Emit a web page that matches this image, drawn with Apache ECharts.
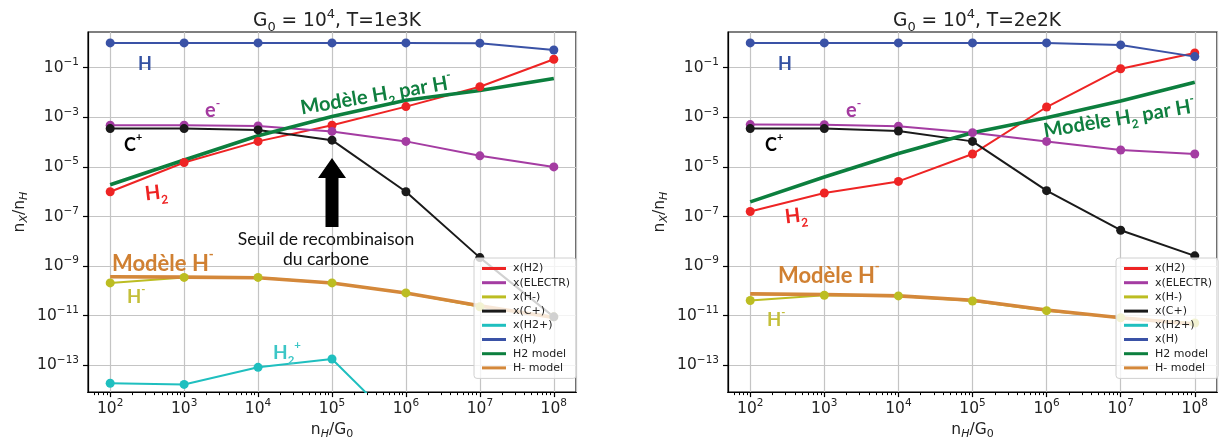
<!DOCTYPE html>
<html><head><meta charset="utf-8">
<script src="https://cdn.jsdelivr.net/npm/echarts@6/dist/echarts.min.js"></script>
<style>html,body{margin:0;padding:0;background:#fff}#c{width:1219px;height:445px}</style>
</head><body><div id="c"></div>
<script>
// ---------- data ----------
const xValues = [1e2, 1e3, 1e4, 1e5, 1e6, 1e7, 1e8];
const xTickValues = [1e2, 1e3, 1e4, 1e5, 1e6, 1e7, 1e8];
const yTickValues = [1e-13, 1e-11, 1e-9, 1e-7, 1e-5, 1e-3, 1e-1];
const seriesNames = ['x(H2)', 'x(ELECTR)', 'x(H-)', 'x(C+)', 'x(H2+)', 'x(H)', 'H2 model', 'H- model'];
const titles = ['G{s|0}{b| = 10}{p|4}{b|, T=1e3K}', 'G{s|0}{b| = 10}{p|4}{b|, T=2e2K}'];

// Left panel: T = 1e3 K
const leftH2      = [1.0e-6, 1.5e-5, 1.07e-4, 4.8e-4, 2.7e-3, 1.7e-2, 0.22];
const leftElectr  = [4.8e-4, 4.8e-4, 4.5e-4, 2.7e-4, 1.07e-4, 2.8e-5, 1.0e-5];
const leftHm      = [2.1e-10, 3.5e-10, 3.5e-10, 2.1e-10, 8.3e-11, 2.3e-11, 9e-12];
const leftCp      = [3.5e-4, 3.5e-4, 3.1e-4, 1.2e-4, 1.0e-6, 2.2e-9, 9e-12];
const leftH2p     = [1.9e-14, 1.7e-14, 8.3e-14, 1.8e-13, 2e-16, 1e-18, 1e-20];
const leftH       = [1.0, 1.0, 1.0, 1.0, 1.0, 0.98, 0.52];
const leftH2Model = [1.9e-6, 1.9e-5, 1.8e-4, 1.07e-3, 4.9e-3, 1.2e-2, 3.7e-2];
const leftHmModel = [3.7e-10, 3.6e-10, 3.4e-10, 2.1e-10, 8.3e-11, 2.5e-11, 8.5e-12];

// Right panel: T = 2e2 K
const rightH2      = [1.6e-7, 8.9e-7, 2.6e-6, 3.3e-5, 2.6e-3, 9.1e-2, 0.39];
const rightElectr  = [5.1e-4, 5.0e-4, 4.4e-4, 2.4e-4, 1.07e-4, 4.8e-5, 3.3e-5];
const rightHm      = [4.1e-11, 6.7e-11, 6.3e-11, 3.9e-11, 1.6e-11, 8.3e-12, 5.1e-12];
const rightCp      = [3.5e-4, 3.5e-4, 2.8e-4, 1.07e-4, 1.1e-6, 2.8e-8, 2.6e-9];
const rightH2p     = [3e-16, 3e-16, 5e-16, 8e-16, 1e-17, 1e-19, 1e-21];
const rightH       = [1.0, 1.0, 1.0, 1.0, 1.0, 0.83, 0.28];
const rightH2Model = [3.9e-7, 3.9e-6, 3.5e-5, 2.4e-4, 9.7e-4, 4.5e-3, 2.6e-2];
const rightHmModel = [7.6e-11, 7.2e-11, 6.3e-11, 4.2e-11, 1.7e-11, 8.3e-12, 4.5e-12];

// ---------- style ----------
const COL = {
  'x(H2)': '#ee2424', 'x(ELECTR)': '#a43ca2', 'x(H-)': '#bcbd22', 'x(C+)': '#1a1a1a',
  'x(H2+)': '#1fbfbf', 'x(H)': '#3a52a6', 'H2 model': '#0c7f3e', 'H- model': '#d4883a'
};
const XLOG_MIN = 1.7, XLOG_MAX = 8.3;
const XMIN = Math.pow(10, XLOG_MIN), XMAX = Math.pow(10, XLOG_MAX);
const YMIN = Math.pow(10, -14.08), YMAX = Math.pow(10, 0.44);
// minor tick positions (2..9 x 10^k), expressed as decades for a helper tick-only axis
const xMinorTickDecades = [];
for (let k = 1; k <= 8; k++) for (let m = 2; m <= 9; m++) {
  const d = Math.log10(m * Math.pow(10, k));
  if (d > XLOG_MIN && d < XLOG_MAX) xMinorTickDecades.push(d);
}
const MPL = 'DejaVu Sans';
const ANN = 'Lato, "Open Sans", sans-serif';

function expLabel(v) {
  const e = Math.round(Math.log10(v));
  return '{b|10}{p|' + (e < 0 ? '\u2212' + (-e) : e) + '}';
}
const tickRich = {
  b: { fontSize: 15.5, lineHeight: 22, fontFamily: MPL, color: '#222' },
  p: { fontSize: 10.5, lineHeight: 11, verticalAlign: 'top', fontFamily: MPL, color: '#222' }
};

const grids = [
  { left: 88, top: 32, width: 488, height: 363 },
  { left: 728, top: 32, width: 489, height: 363 }
];

function mainX(gi) {
  return {
    type: 'log', gridIndex: gi, min: XMIN, max: XMAX, position: 'bottom',
    name: '{b|n}{s|H}{b|/G}{z|0}', nameLocation: 'middle', nameGap: 27,
    nameTextStyle: { rich: {
      b: { fontSize: 15.5, lineHeight: 20, fontFamily: MPL, color: '#222' },
      s: { fontSize: 11, lineHeight: 11, verticalAlign: 'bottom', fontStyle: 'italic', fontFamily: MPL, color: '#222' },
      z: { fontSize: 11, lineHeight: 11, verticalAlign: 'bottom', fontFamily: MPL, color: '#222' } } },
    axisLine: { show: true, lineStyle: { color: '#000', width: 1.2 } },
    axisTick: { show: true, length: 5, lineStyle: { color: '#000', width: 1.2 } },
    axisLabel: { margin: 6, formatter: expLabel, rich: tickRich },
    splitLine: { show: true, lineStyle: { color: '#c4c4c4', width: 1.2 } }
  };
}
function minorX(gi) {
  return {
    type: 'value', gridIndex: gi, min: XLOG_MIN, max: XLOG_MAX, position: 'bottom',
    axisLine: { show: true, lineStyle: { color: '#000', width: 1.2 } },
    axisTick: { show: true, customValues: xMinorTickDecades, length: 3, lineStyle: { color: '#000', width: 1 } },
    axisLabel: { show: false, customValues: xMinorTickDecades },
    splitLine: { show: false }
  };
}
function mainY(gi) {
  return {
    type: 'log', gridIndex: gi, min: YMIN, max: YMAX,
    name: '{b|n}{s|X}{b|/n}{s|H}', nameLocation: 'middle', nameGap: 58, nameRotate: 90,
    nameTextStyle: { rich: {
      b: { fontSize: 15.5, lineHeight: 20, fontFamily: MPL, color: '#222' },
      s: { fontSize: 11, lineHeight: 11, verticalAlign: 'bottom', fontStyle: 'italic', fontFamily: MPL, color: '#222' } } },
    axisLine: { show: true, lineStyle: { color: '#000', width: 1.2 } },
    axisTick: { show: true, customValues: yTickValues, length: 5, lineStyle: { color: '#000', width: 1.2 } },
    axisLabel: { customValues: yTickValues, margin: 9, formatter: expLabel, rich: tickRich },
    splitLine: { show: true, lineStyle: { color: '#c4c4c4', width: 1.2 } }
  };
}

function pts(ys) { return xValues.map((x, i) => [x, ys[i]]); }
function dataSeries(name, ys, xi, yi) {
  return { type: 'line', name, xAxisIndex: xi, yAxisIndex: yi, data: pts(ys), color: COL[name],
    symbol: 'circle', symbolSize: 9, showSymbol: true, clip: true,
    lineStyle: { width: 2, color: COL[name] }, itemStyle: { color: COL[name] } };
}
function modelSeries(name, ys, xi, yi) {
  return { type: 'line', name, xAxisIndex: xi, yAxisIndex: yi, data: pts(ys), color: COL[name],
    symbol: 'none', showSymbol: false, clip: true,
    lineStyle: { width: 3.6, color: COL[name] }, itemStyle: { color: COL[name] } };
}
function panelSeries(d, xi, yi) {
  return [
    dataSeries('x(H2)', d.h2, xi, yi), dataSeries('x(ELECTR)', d.el, xi, yi),
    dataSeries('x(H-)', d.hm, xi, yi), dataSeries('x(C+)', d.cp, xi, yi),
    dataSeries('x(H2+)', d.h2p, xi, yi), dataSeries('x(H)', d.h, xi, yi),
    modelSeries('H2 model', d.h2m, xi, yi), modelSeries('H- model', d.hmm, xi, yi)
  ];
}

function legend(left) {
  return { data: seriesNames, left, top: 258, orient: 'vertical', icon: 'rect',
    itemWidth: 24, itemHeight: 3, itemGap: 3.2, padding: [5, 6, 5, 8],
    backgroundColor: 'rgba(255,255,255,0.8)', borderColor: '#d0d0d0', borderWidth: 1, borderRadius: 3,
    textStyle: { fontSize: 11, fontFamily: MPL, color: '#222', padding: [0, 0, 0, 2] }, selectedMode: false };
}
const titleRich = {
  b: { fontSize: 18.6, lineHeight: 26, fontFamily: MPL, fontWeight: 'normal', color: '#222' },
  s: { fontSize: 13, lineHeight: 13, verticalAlign: 'bottom', fontFamily: MPL, fontWeight: 'normal', color: '#222' },
  p: { fontSize: 13, lineHeight: 13, verticalAlign: 'top', fontFamily: MPL, fontWeight: 'normal', color: '#222' }
};

// ---------- annotations ----------
function ann(x, y, text, color, size, opt) {
  opt = opt || {};
  return { type: 'text', x, y, rotation: opt.rot || 0, z: 100,
    style: { text, fill: color, font: (opt.w || 'bold') + ' ' + size + 'px ' + ANN,
      align: opt.align || 'left', verticalAlign: opt.va || 'middle',
      textAlign: opt.align || 'left', textVerticalAlign: opt.va || 'middle',
      rich: {
        b: { fontSize: size, lineHeight: size * 1.4, fontWeight: opt.w || 'bold', fontFamily: ANN, fill: color },
        p: { fontSize: size * 0.6, lineHeight: size * 0.6, verticalAlign: 'top', fontWeight: opt.w || 'bold', fontFamily: ANN, fill: color },
        s: { fontSize: size * 0.6, lineHeight: size * 0.6, verticalAlign: 'bottom', fontWeight: opt.w || 'bold', fontFamily: ANN, fill: color }
      } } };
}
const C = { H: '#3552a2', e: '#a3399f', C: '#000', H2: '#ee2222', g: '#0f7f3f', o: '#d08032', ol: '#c4bf3a', cy: '#3cc6c6' };
const graphics = [
  // left
  ann(138, 64, '{b|H}', C.H, 18),
  ann(205, 111, '{b|e}{p|-}', C.e, 20),
  ann(124, 145, '{b|C}{p|+}', C.C, 18),
  ann(145, 194, '{b|H}{s|2}', C.H2, 20, { rot: 0.12 }),
  ann(303, 122, '{b|Modèle H}{s|2}{b| par H}{p|-}', C.g, 20, { rot: 0.17, va: 'bottom' }),
  ann(112, 264, '{b|Modèle H}{p|-}', C.o, 22),
  ann(127, 297, '{b|H}{p|-}', C.ol, 18.5),
  ann(273, 353, '{b|H}{s|2}{p|+}', C.cy, 19),
  { type: 'text', x: 326, y: 249, z: 100, style: { text: 'Seuil de recombinaison\ndu carbone', fill: '#111',
      font: 'normal 17.5px ' + ANN, align: 'center', verticalAlign: 'middle', textAlign: 'center', textVerticalAlign: 'middle', lineHeight: 20 } },
  { type: 'polygon', z: 100, shape: { points: [[332, 158], [346, 178], [338.5, 178], [338.5, 227], [325.5, 227], [325.5, 178], [318, 178]] },
    style: { fill: '#000' } },
  // right
  ann(778, 64, '{b|H}', C.H, 18),
  ann(846, 111, '{b|e}{p|-}', C.e, 20),
  ann(765, 145, '{b|C}{p|+}', C.C, 18),
  ann(785, 217, '{b|H}{s|2}', C.H2, 20, { rot: 0.12 }),
  ann(1046, 145, '{b|Modèle H}{s|2}{b| par H}{p|-}', C.g, 20, { rot: 0.165, va: 'bottom' }),
  ann(778, 276, '{b|Modèle H}{p|-}', C.o, 22),
  ann(767, 320, '{b|H}{p|-}', C.ol, 18.5)
];

const option = {
  animation: false,
  title: [
    { text: titles[0], left: 332, top: 3, textAlign: 'center', textStyle: { fontWeight: 'normal', fontFamily: MPL, fontSize: 18.6, color: '#222', rich: titleRich } },
    { text: titles[1], left: 972, top: 3, textAlign: 'center', textStyle: { fontWeight: 'normal', fontFamily: MPL, fontSize: 18.6, color: '#222', rich: titleRich } }
  ],
  grid: grids.map(g => Object.assign({ show: true, borderColor: '#000', borderWidth: 1.2, containLabel: false }, g)),
  xAxis: [mainX(0), minorX(0), mainX(1), minorX(1)],
  yAxis: [mainY(0), mainY(1)],
  legend: [legend(474), legend(1116)],
  series: [
    ...panelSeries({ h2: leftH2, el: leftElectr, hm: leftHm, cp: leftCp, h2p: leftH2p, h: leftH, h2m: leftH2Model, hmm: leftHmModel }, 0, 0),
    ...panelSeries({ h2: rightH2, el: rightElectr, hm: rightHm, cp: rightCp, h2p: rightH2p, h: rightH, h2m: rightH2Model, hmm: rightHmModel }, 2, 1)
  ],
  graphic: { elements: graphics }
};
const chart = echarts.init(document.getElementById('c'), null, { renderer: 'canvas' });
chart.setOption(option);
</script>
</body></html>
